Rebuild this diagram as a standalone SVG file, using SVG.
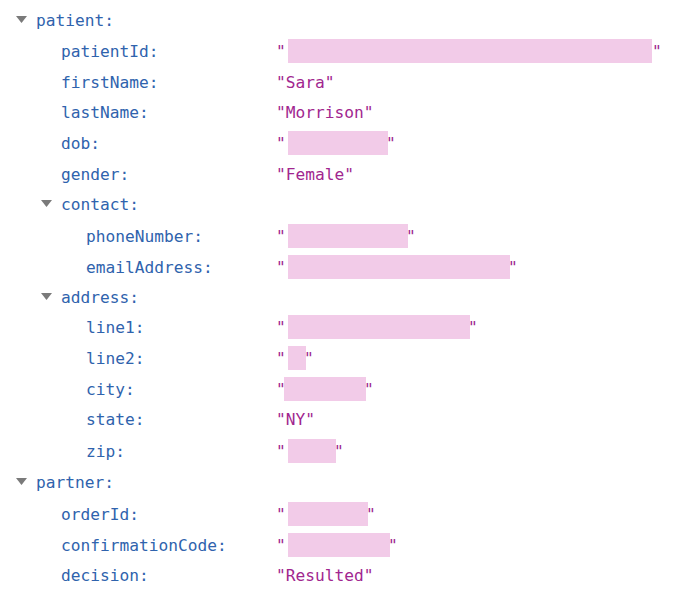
<svg xmlns="http://www.w3.org/2000/svg" width="700" height="616" viewBox="0 0 700 616">
<style>
text{font-family:"DejaVu Sans Mono","Liberation Mono",monospace;font-size:16.2px}
.k{fill:#2f63ad}.s{fill:#a1268f}.b{fill:#f2cbe8}.t{fill:#7a7a7a}
</style>
<rect width="700" height="616" fill="#fff"/>
<g id="tri" class="t">
<path d="M16 16h11l-5.5 7z"/><path d="M41 200h11l-5.5 7z"/><path d="M41 293h11l-5.5 7z"/><path d="M16 478h11l-5.5 7z"/>
</g>
<g id="keys" class="k">
<text x="36" y="26">patient:</text>
<text x="61" y="57">patientId:</text>
<text x="61" y="88">firstName:</text>
<text x="61" y="118">lastName:</text>
<text x="61" y="149">dob:</text>
<text x="61" y="180">gender:</text>
<text x="61" y="210">contact:</text>
<text x="86" y="242">phoneNumber:</text>
<text x="86" y="273">emailAddress:</text>
<text x="61" y="303">address:</text>
<text x="86" y="333">line1:</text>
<text x="86" y="364">line2:</text>
<text x="86" y="395">city:</text>
<text x="86" y="425">state:</text>
<text x="86" y="457">zip:</text>
<text x="36" y="488">partner:</text>
<text x="61" y="520">orderId:</text>
<text x="61" y="551">confirmationCode:</text>
<text x="61" y="581">decision:</text>
</g>
<g id="blur" class="b">
<rect x="288" y="39" width="364" height="24"/>
<rect x="288" y="131" width="100" height="24"/>
<rect x="288" y="224" width="120" height="24"/>
<rect x="288" y="255" width="222" height="24"/>
<rect x="288" y="315" width="182" height="24"/>
<rect x="288" y="346" width="18" height="24"/>
<rect x="284" y="377" width="82" height="24"/>
<rect x="288" y="439" width="48" height="24"/>
<rect x="288" y="502" width="80" height="24"/>
<rect x="288" y="533" width="102" height="24"/>
</g>
<g id="vals" class="s">
<text x="276" y="57">"</text><text x="652" y="57">"</text>
<text x="276" y="88">"Sara"</text>
<text x="276" y="118">"Morrison"</text>
<text x="276" y="149">"</text><text x="386" y="149">"</text>
<text x="276" y="180">"Female"</text>
<text x="276" y="242">"</text><text x="406" y="242">"</text>
<text x="276" y="273">"</text><text x="508" y="273">"</text>
<text x="276" y="333">"</text><text x="468" y="333">"</text>
<text x="276" y="364">"</text><text x="304" y="364">"</text>
<text x="276" y="395">"</text><text x="364" y="395">"</text>
<text x="276" y="425">"NY"</text>
<text x="276" y="457">"</text><text x="334" y="457">"</text>
<text x="276" y="520">"</text><text x="366" y="520">"</text>
<text x="276" y="551">"</text><text x="388" y="551">"</text>
<text x="276" y="581">"Resulted"</text>
</g>
</svg>
